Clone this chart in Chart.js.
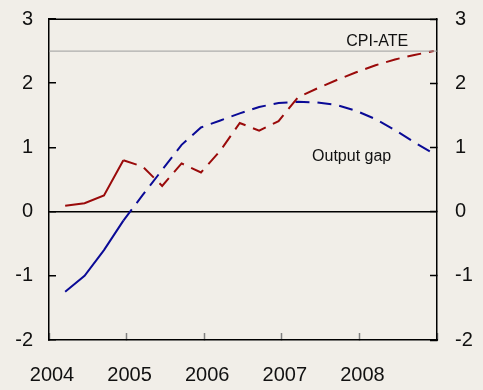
<!DOCTYPE html>
<html>
<head>
<meta charset="utf-8">
<style>
  html, body { margin: 0; padding: 0; background: #f1eee8; }
  #wrap { width: 483px; height: 390px; }
</style>
<script src="https://cdn.jsdelivr.net/npm/chart.js@4/dist/chart.umd.min.js"></script>
</head>
<body>
<div id="wrap"><canvas id="c" width="483" height="390"></canvas></div>
<script>
// Quarterly observations and projections, 2004Q1 - 2008Q4
const quarters = [
  '2004Q1', '2004Q2', '2004Q3', '2004Q4',
  '2005Q1', '2005Q2', '2005Q3', '2005Q4',
  '2006Q1', '2006Q2', '2006Q3', '2006Q4',
  '2007Q1', '2007Q2', '2007Q3', '2007Q4',
  '2008Q1', '2008Q2', '2008Q3', '2008Q4'
];
const cpiAte = [
  0.09, 0.13, 0.25, 0.80,
  0.70, 0.40, 0.75, 0.61,
  0.95, 1.38, 1.26, 1.41,
  1.78, 1.92, 2.05, 2.17,
  2.28, 2.37, 2.44, 2.50
];
const outputGap = [
  -1.25, -1.00, -0.60, -0.14,
  0.26, 0.65, 1.04, 1.31,
  1.42, 1.53, 1.63, 1.69,
  1.71, 1.70, 1.66, 1.57,
  1.44, 1.27, 1.08, 0.90
];
const inflationTarget = 2.5;
const yearLabels = ['2004', '2005', '2006', '2007', '2008'];
const yTickValues = [-2, -1, 0, 1, 2, 3];
const lastOutcome = 3; // index of the last historical quarter; projections follow

const FONT = '"Liberation Sans", Arial, sans-serif';

// each quarter is placed at the middle of its last month
function quarterPos(q) {
  const [yr, n] = q.split('Q');
  return Number(yr) + (3 * Number(n) - 0.5) / 12;
}
function toPoints(values) {
  return values.map((v, i) => ({ x: quarterPos(quarters[i]), y: v }));
}
const projDash = ctx => (ctx.p0DataIndex >= lastOutcome ? [14, 8] : []);

const firstYear = Number(yearLabels[0]);
const lastYear = Number(yearLabels[yearLabels.length - 1]) + 1;

// top edge of the plot frame
const frameTopPlugin = {
  id: 'frameTop',
  afterDraw(chart) {
    const { ctx, chartArea: a } = chart;
    ctx.save();
    ctx.strokeStyle = '#000';
    ctx.lineWidth = 1.5;
    ctx.beginPath();
    ctx.moveTo(a.left, Math.round(a.top) + 0.25);
    ctx.lineTo(a.right, Math.round(a.top) + 0.25);
    ctx.stroke();
    ctx.restore();
  }
};

// text annotations placed in data units
const labelsPlugin = {
  id: 'seriesLabels',
  afterDatasetsDraw(chart) {
    const { ctx, scales: { x, y } } = chart;
    ctx.save();
    ctx.fillStyle = '#111';
    ctx.font = '16px ' + FONT;
    ctx.textBaseline = 'alphabetic';
    ctx.textAlign = 'center';
    ctx.fillText('CPI-ATE', x.getPixelForValue(2008.23), y.getPixelForValue(2.58));
    ctx.textAlign = 'left';
    ctx.fillText('Output gap', x.getPixelForValue(2007.39), y.getPixelForValue(0.79));
    ctx.restore();
  }
};

const yAxisCommon = {
  type: 'linear',
  min: yTickValues[0],
  max: yTickValues[yTickValues.length - 1],
  afterBuildTicks: s => { s.ticks = yTickValues.map(v => ({ value: v })); },
  border: { display: true, color: '#000', width: 1.5 },
};

// fixed axis box sizes, no extra room for label overhang
const fixWidth = w => s => { s.width = w; s.paddingTop = 0; s.paddingBottom = 0; };

new Chart(document.getElementById('c'), {
  type: 'line',
  data: {
    datasets: [
      {
        label: 'CPI-ATE target',
        data: [{ x: firstYear, y: inflationTarget }, { x: lastYear, y: inflationTarget }],
        borderColor: '#9c9c9c',
        borderWidth: 1,
        pointRadius: 0,
      },
      {
        label: 'CPI-ATE',
        data: toPoints(cpiAte),
        borderColor: '#9a0a0a',
        borderWidth: 2,
        pointRadius: 0,
        tension: 0,
        segment: { borderDash: projDash },
      },
      {
        label: 'Output gap',
        data: toPoints(outputGap),
        borderColor: '#0a0a96',
        borderWidth: 2,
        pointRadius: 0,
        tension: 0,
        segment: { borderDash: projDash },
      },
    ]
  },
  options: {
    responsive: false,
    animation: false,
    devicePixelRatio: 1,
    layout: { padding: { top: 19, left: 0, right: 0, bottom: 0 } },
    plugins: { legend: { display: false }, tooltip: { enabled: false } },
    scales: {
      x: {
        type: 'linear',
        position: 'bottom',
        min: firstYear,
        max: lastYear,
        afterBuildTicks: s => {
          const t = [];
          for (let v = firstYear; v <= lastYear; v++) t.push({ value: v });
          s.ticks = t;
        },
        afterFit: s => { s.height = 50; s.paddingLeft = 0; s.paddingRight = 0; },
        border: { display: true, color: '#000', width: 1.5 },
        grid: { drawOnChartArea: false, drawTicks: true, tickLength: -7, color: '#808080', tickWidth: 1.5 },
        ticks: {
          padding: 30,
          labelOffset: 3,
          color: '#111',
          font: { family: FONT, size: 20 },
          maxRotation: 0,
          autoSkip: false,
          callback: v => (yearLabels.includes(String(v)) ? String(v) : ''),
        },
      },
      y: Object.assign({}, yAxisCommon, {
        position: 'left',
        afterFit: fixWidth(49),
        grid: {
          drawOnChartArea: true,
          drawTicks: true,
          tickLength: -7,
          color: c => (c.tick && c.tick.value === 0 ? '#000' : 'rgba(0,0,0,0)'),
          lineWidth: 1.5,
          tickColor: '#000',
          tickWidth: 1.5,
        },
        ticks: {
          padding: 23,
          color: '#111',
          font: { family: FONT, size: 20 },
          callback: v => String(v),
        },
      }),
      yRight: Object.assign({}, yAxisCommon, {
        position: 'right',
        afterFit: fixWidth(46),
        grid: { drawOnChartArea: false, drawTicks: true, tickLength: -7, color: '#000', tickWidth: 1.5 },
        ticks: {
          padding: 25,
          color: '#111',
          font: { family: FONT, size: 20 },
          callback: v => String(v),
        },
      }),
    }
  },
  plugins: [frameTopPlugin, labelsPlugin]
});
</script>
</body>
</html>
